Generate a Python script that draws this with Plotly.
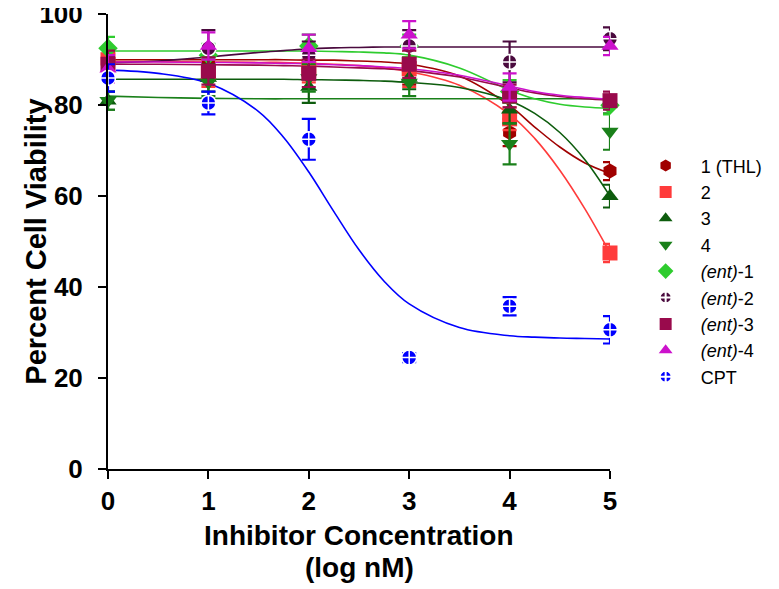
import plotly.graph_objects as go

# ---- data ----
x_pts = [0, 1, 2, 3, 4, 5]

names = ["1 (THL)", "2", "3", "4", "<i>(ent)</i>-1", "<i>(ent)</i>-2",
         "<i>(ent)</i>-3", "<i>(ent)</i>-4", "CPT"]

thl_y = [89.5, 89.0, 88.5, 87.5, 74.0, 65.5]
thl_e = [2.0, 3.0, 2.0, 3.0, 3.0, 2.0]
c2_y = [90.0, 87.0, 88.0, 88.0, 77.0, 47.5]
c2_e = [2.0, 3.0, 3.0, 4.0, 2.5, 2.0]
c3_y = [81.0, 86.0, 84.0, 86.0, 79.0, 60.0]
c3_e = [2.0, 3.0, 3.5, 2.5, 3.0, 2.5]
c4_y = [81.0, 85.0, 86.0, 85.0, 71.5, 74.2]
c4_e = [2.0, 3.0, 3.0, 3.0, 4.5, 4.0]
e1_y = [92.5, 91.0, 93.0, 93.0, 83.0, 80.0]
e1_e = [2.5, 2.5, 2.5, 2.5, 2.5, 2.0]
e2_y = [88.0, 92.5, 91.0, 93.0, 89.5, 94.6]
e2_e = [2.5, 4.0, 3.0, 3.5, 4.5, 2.5]
e3_y = [89.0, 87.5, 87.0, 89.0, 82.0, 81.0]
e3_e = [3.0, 3.0, 3.0, 3.0, 2.5, 2.0]
e4_y = [88.0, 93.0, 92.5, 95.5, 84.0, 93.0]
e4_e = [3.0, 3.0, 3.0, 3.0, 3.0, 2.0]
cpt_y = [86.0, 80.5, 72.5, 24.5, 35.8, 30.6]
cpt_e = [3.0, 2.5, 4.5, 1.0, 2.0, 3.0]

# fitted curves
curve_x = [0, 0.5, 1, 1.5, 1.75, 2, 2.25, 2.5, 2.75, 3, 3.5, 4, 4.25, 4.5, 4.75, 5]
thl_fit = [90.0, 90.0, 90.0, 90.0, 90.0, 89.9, 89.9, 89.7, 89.5, 89.0, 86.4, 79.9, 75.2, 70.8, 67.3, 65.0]
c2_fit = [89.6, 89.6, 89.5, 89.4, 89.4, 89.2, 89.0, 88.7, 88.2, 87.4, 84.4, 78.0, 72.7, 65.7, 57.2, 47.5]
c3_fit = [85.7, 85.7, 85.7, 85.7, 85.7, 85.6, 85.55, 85.45, 85.3, 85.0, 83.9, 81.0, 78.2, 74.0, 68.0, 60.0]
c4_fit = [82.0, 81.7, 81.5, 81.4, 81.4, 81.4, 81.4, 81.4, 81.4, 81.4, 81.4, 81.4, 81.4, 81.4, 81.4, 81.4]
e1_fit = [91.9, 91.9, 91.9, 91.9, 91.9, 91.9, 91.8, 91.7, 91.5, 91.0, 88.2, 83.3, 81.4, 80.2, 79.6, 79.3]
e2_fit = [89.3, 89.7, 90.6, 91.6, 92.0, 92.4, 92.6, 92.7, 92.8, 92.8, 92.8, 92.8, 92.8, 92.8, 92.8, 92.8]
e3_fit = [89.0, 89.0, 88.9, 88.8, 88.7, 88.6, 88.4, 88.2, 88.0, 87.6, 86.2, 83.8, 82.7, 81.9, 81.4, 81.1]
e4_fit = [89.5, 89.5, 89.4, 89.3, 89.2, 89.1, 88.9, 88.7, 88.4, 88.0, 86.6, 84.2, 83.0, 82.2, 81.7, 81.3]
cpt_fit = [87.7, 87.0, 84.8, 78.6, 72.9, 65.3, 56.6, 48.2, 41.3, 36.3, 31.1, 29.3, 29.0, 28.8, 28.7, 28.6]

x_ticks = [0, 1, 2, 3, 4, 5]
y_ticks = [0, 20, 40, 60, 80, 100]

x_title_1 = "Inhibitor Concentration"
x_title_2 = "(log nM)"
y_title = "Percent Cell Viability"

# ---- styles ----
FONT = "Liberation Sans, Arial, sans-serif"
colors = ["#a00000", "#ff3b3b", "#0d5c0d", "#1a801a", "#2ecc2e",
          "#4a0a3e", "#990a4c", "#cc11cc", "#0000ff"]
symbols = ["hexagon", "square", "triangle-up", "triangle-down", "diamond",
           "circle-cross", "square", "triangle-up", "circle-cross"]
means = [thl_y, c2_y, c3_y, c4_y, e1_y, e2_y, e3_y, e4_y, cpt_y]
errs = [thl_e, c2_e, c3_e, c4_e, e1_e, e2_e, e3_e, e4_e, cpt_e]
fits = [thl_fit, c2_fit, c3_fit, c4_fit, e1_fit, e2_fit, e3_fit, e4_fit, cpt_fit]

fig = go.Figure()

for i in range(len(names)):
    fig.add_trace(go.Scatter(
        x=curve_x, y=fits[i], mode="lines",
        line=dict(color=colors[i], width=1.6, shape="spline", smoothing=1.0),
        showlegend=False, hoverinfo="skip", cliponaxis=False))

pad = "\u00a0\u00a0\u00a0"
for i in range(len(names)):
    is_dot = symbols[i] == "circle-cross"
    fig.add_trace(go.Scatter(
        x=x_pts, y=means[i], mode="markers", name=pad + names[i],
        marker=dict(symbol=symbols[i], color=colors[i], size=15,
                    line=dict(color="white" if is_dot else colors[i],
                              width=1.5 if is_dot else 0)),
        error_y=dict(type="data", array=errs[i], color=colors[i],
                     thickness=2.2, width=7, visible=True),
        cliponaxis=False))

# axis titles as text annotations
fig.add_annotation(text="<b>" + x_title_1 + "</b>", xref="paper", yref="paper",
                   x=0.5, y=-0.147, xanchor="center", yanchor="middle",
                   showarrow=False, font=dict(size=28, family=FONT, color="black"))
fig.add_annotation(text="<b>" + x_title_2 + "</b>", xref="paper", yref="paper",
                   x=0.5, y=-0.217, xanchor="center", yanchor="middle",
                   showarrow=False, font=dict(size=28, family=FONT, color="black"))
fig.add_annotation(text="<b>" + y_title + "</b>", xref="paper", yref="paper",
                   x=-0.145, y=0.5, xanchor="center", yanchor="middle",
                   textangle=-90, showarrow=False,
                   font=dict(size=29, family=FONT, color="black"))

fig.update_layout(
    width=779, height=589,
    margin=dict(l=100, r=177, t=6, b=128, autoexpand=False),
    paper_bgcolor="white", plot_bgcolor="white",
    font=dict(family=FONT, color="black"),
    showlegend=True,
    legend=dict(x=1.071, y=0.707, xanchor="left", yanchor="top",
                font=dict(size=18, family=FONT),
                tracegroupgap=0, itemsizing="constant",
                bgcolor="rgba(0,0,0,0)"),
    xaxis=dict(range=[0, 5], tickvals=x_ticks, ticktext=[str(v) for v in x_ticks],
               showline=True, linecolor="black", linewidth=2,
               ticks="outside", ticklen=8, tickwidth=2, tickcolor="black",
               showgrid=False, zeroline=False, ticklabeloverflow="allow",
               automargin=False,
               tickfont=dict(size=26, family=FONT, weight="bold")),
    yaxis=dict(range=[0, 100.05], tickvals=y_ticks, ticktext=[str(v) for v in y_ticks],
               showline=True, linecolor="black", linewidth=2,
               ticks="outside", ticklen=8, tickwidth=2, tickcolor="black",
               ticklabelstandoff=10, ticklabeloverflow="allow",
               automargin=False,
               showgrid=False, zeroline=False,
               tickfont=dict(size=26, family=FONT, weight="bold")),
)

fig.write_html("out.html")
